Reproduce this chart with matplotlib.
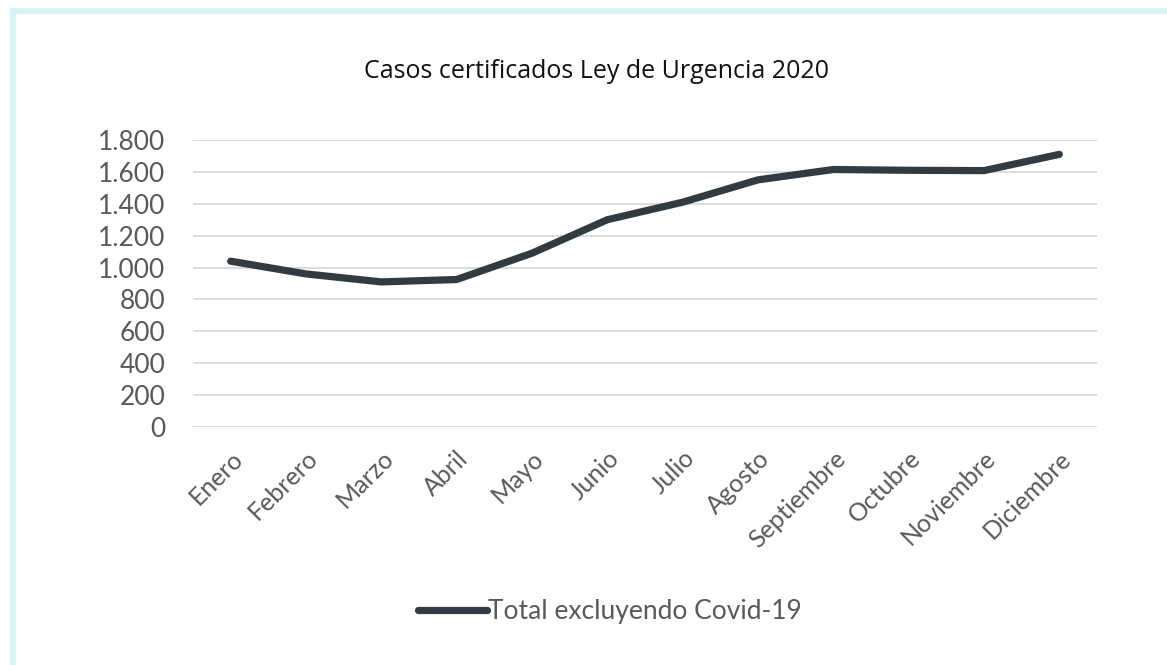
import matplotlib.pyplot as plt
from matplotlib.lines import Line2D
from matplotlib.ticker import FuncFormatter

meses = ["Enero", "Febrero", "Marzo", "Abril", "Mayo", "Junio", "Julio",
         "Agosto", "Septiembre", "Octubre", "Noviembre", "Diciembre"]
casos = [1040, 960, 910, 925, 1090, 1300, 1410, 1550, 1615, 1610, 1608, 1710]
y_ticks = [0, 200, 400, 600, 800, 1000, 1200, 1400, 1600, 1800]

fig = plt.figure(figsize=(11.67, 6.65), dpi=100)
# light cyan frame: only top and left edges are visible
borde = "#d9f2f4"
fig.add_artist(Line2D([13 / 1167, 1], [1 - 11 / 665] * 2, transform=fig.transFigure,
                      color=borde, linewidth=4.5))
fig.add_artist(Line2D([13 / 1167] * 2, [0, 1 - 11 / 665], transform=fig.transFigure,
                      color=borde, linewidth=4.5))

ax = fig.add_axes([193 / 1167, 1 - 427 / 665, (1097 - 193) / 1167, (427 - 140) / 665])

x = list(range(len(meses)))
ax.plot(x, casos, color="#323c40", linewidth=5.2, solid_capstyle="round",
        solid_joinstyle="round", label="Total excluyendo Covid-19")

ax.set_xlim(-0.5, len(meses) - 0.5)
ax.set_ylim(0, 1800)
ax.set_yticks(y_ticks)
ax.yaxis.set_major_formatter(FuncFormatter(lambda v, p: f"{int(v):,}".replace(",", ".")))
ax.grid(axis="y", color="#d9d9d9", linewidth=1.3)
ax.set_axisbelow(True)
for s in ax.spines.values():
    s.set_visible(False)

ax.tick_params(axis="y", length=0, pad=20, labelsize=19, labelcolor="#595959")
ax.tick_params(axis="x", length=0, pad=14)
ax.set_xticks(x)
ax.set_xticklabels(meses, rotation=45, ha="right", rotation_mode="anchor",
                   fontsize=18, color="#595959")
for lbl in ax.get_yticklabels() + ax.get_xticklabels():
    lbl.set_family("Lato")

fig.text(596 / 1167, 1 - 72 / 665, "Casos certificados Ley de Urgencia 2020",
         ha="center", va="center", fontsize=18, family="Open Sans", color="#111111")

leg = fig.legend(loc="center", bbox_to_anchor=(610 / 1167, 1 - 612 / 665),
                 frameon=False, handlelength=2.6, handletextpad=0.05,
                 prop={"family": "Lato", "size": 19})
for t in leg.get_texts():
    t.set_color("#595959")

fig.savefig("out.png", dpi=100)
